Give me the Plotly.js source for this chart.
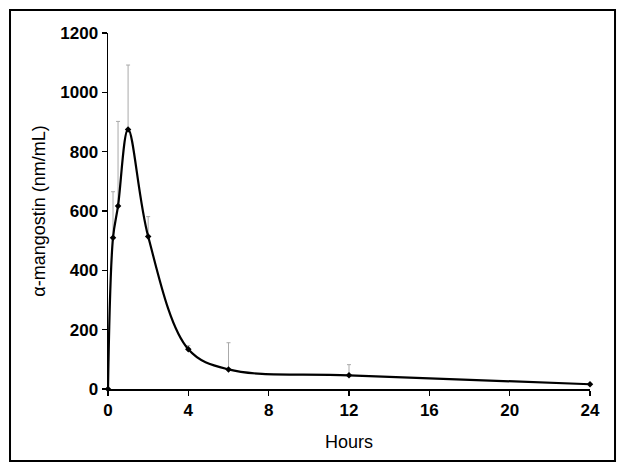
<!DOCTYPE html>
<html>
<head>
<meta charset="utf-8">
<script src="https://cdn.plot.ly/plotly-3.0.1.min.js"></script>
<style>html,body{margin:0;padding:0;background:#fff;}#chart{width:624px;height:471px;}</style>
</head>
<body>
<div id="chart"></div>
<script>
const hours = [0, 0.25, 0.5, 1, 2, 4, 6, 12, 24];
const concentration = [0, 510, 617, 875, 514, 134, 66, 46, 16];
const errorUp = [0, 155, 285, 217, 67, 12, 90, 36, 0];
const xTicks = [0, 4, 8, 12, 16, 20, 24];
const yTicks = [0, 200, 400, 600, 800, 1000, 1200];

const trace = {
  x: hours,
  y: concentration,
  type: 'scatter',
  mode: 'lines+markers',
  line: {color: '#000', width: 2.2, shape: 'spline', smoothing: 1},
  marker: {symbol: 'diamond', size: 5, color: '#000'},
  error_y: {type: 'data', symmetric: false, array: errorUp, arrayminus: hours.map(() => 0),
            color: '#aaaaaa', thickness: 1, width: 2},
  cliponaxis: false,
  showlegend: false
};

const layout = {
  width: 624, height: 471,
  margin: {l: 108, r: 34, t: 33, b: 82},
  paper_bgcolor: '#fff', plot_bgcolor: '#fff',
  font: {family: 'Arial, Liberation Sans, sans-serif', color: '#000'},
  xaxis: {
    range: [0, 24], tickvals: xTicks, ticktext: xTicks.map(String),
    showgrid: false, zeroline: false, showline: true, linecolor: '#000', linewidth: 1.5,
    ticks: 'outside', ticklen: 5, tickwidth: 1.5, tickcolor: '#000',
    tickfont: {size: 17, family: 'Arial, Liberation Sans, sans-serif', weight: 'bold'},
    title: {text: 'Hours', font: {size: 18}, standoff: 16}
  },
  yaxis: {
    range: [0, 1200], tickvals: yTicks, ticktext: yTicks.map(String),
    showgrid: false, zeroline: false, showline: true, linecolor: '#000', linewidth: 1.5,
    ticks: 'outside', ticklen: 5, tickwidth: 1.5, tickcolor: '#000',
    tickfont: {size: 17, family: 'Arial, Liberation Sans, sans-serif', weight: 'bold'},
    title: {text: 'α-mangostin (nm/mL)', font: {size: 18}, standoff: 10}
  },
  shapes: [{
    type: 'rect', xref: 'paper', yref: 'paper',
    x0: -0.2033, x1: 1.0519, y0: -0.2022, y1: 1.0646,
    line: {color: '#000', width: 2}
  }]
};

Plotly.newPlot('chart', [trace], layout, {staticPlot: true, displayModeBar: false});
</script>
</body>
</html>
